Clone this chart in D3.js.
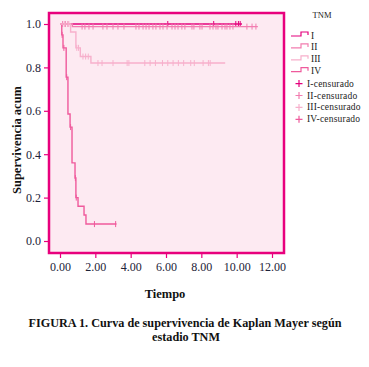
<!DOCTYPE html>
<html>
<head>
<meta charset="utf-8">
<script src="https://cdn.jsdelivr.net/npm/d3@7"></script>
<style>
  body { margin: 0; background: #fff; }
  svg text { font-family: "Liberation Serif", "DejaVu Serif", serif; }
</style>
</head>
<body>
<svg id="km"></svg>
<script>
/* Data: Kaplan-Meier steps [time, survival], censored times, end time */
const stages = ["I", "II", "III", "IV"];
const stepsI = [[0, 1]];
const stepsII = [[0, 1], [0.7, 0.988]];
const stepsIII = [[0, 1], [0.6, 0.963], [0.9, 0.89], [1.15, 0.85], [1.75, 0.82]];
const stepsIV = [[0, 1], [0.1, 0.95], [0.17, 0.89], [0.35, 0.755], [0.45, 0.585], [0.57, 0.525],
                 [0.68, 0.36], [0.85, 0.29], [0.9, 0.2], [1.02, 0.16], [1.36, 0.12], [1.47, 0.078]];
const endTimes = [10.3, 11.2, 9.35, 3.2];
const censI = [6.1, 8.7, 9.95, 10.1, 10.2];
const censII = [0.15, 0.3, 0.45, 1.25, 1.41, 1.64, 1.87, 2.43, 2.66, 3.0, 3.28, 3.62, 4.3, 4.47, 4.7, 4.87,
                5.04, 5.26, 5.43, 5.66, 5.83, 6.06, 6.34, 6.51, 6.68, 6.9, 7.07, 7.47, 7.58, 7.92, 8.04,
                8.49, 8.66, 8.83, 8.94, 9.17, 9.34, 9.45, 9.62, 9.79, 10.58, 10.87, 11.09];
const censIII = [0.25, 0.5, 0.95, 1.05, 1.3, 1.45, 1.6, 2.15, 2.38, 3.0, 3.8, 3.9, 4.8, 5.1, 5.4, 5.8,
                 6.1, 6.4, 6.7, 7.0, 7.4, 7.6, 8.1, 8.4, 8.5];
const censIV = [0.12, 0.22, 0.38, 0.6, 0.87, 0.92, 1.95, 3.15];
const xTicks = [0, 2, 4, 6, 8, 10, 12];
const yTicks = [0, 0.2, 0.4, 0.6, 0.8, 1.0];

const colors = ["#e4007c", "#f27db0", "#f7b0cc", "#ef5a9c"];
const allSteps = [stepsI, stepsII, stepsIII, stepsIV];
const allCens = [censI, censII, censIII, censIV];

/* Dimensions */
const width = 369, height = 367;
const frame = { left: 49, top: 13, right: 284, bottom: 253 };

const svg = d3.select("#km").attr("width", width).attr("height", height);

/* Scales */
const x = d3.scaleLinear().domain([0, 12]).range([60, 272]);
const y = d3.scaleLinear().domain([0, 1]).range([241, 24]);

/* Plot background */
svg.append("rect")
    .attr("x", frame.left).attr("y", frame.top)
    .attr("width", frame.right - frame.left).attr("height", frame.bottom - frame.top)
    .attr("fill", "#fdeaf2");

/* Survival value at time t */
function survAt(steps, t) {
    let v = steps[0][1];
    steps.forEach(s => { if (s[0] <= t) v = s[1]; });
    return v;
}

const line = d3.line().x(d => x(d[0])).y(d => y(d[1])).curve(d3.curveStepAfter);

/* Draw curves: I first, then IV, II, III on top */
const order = [0, 3, 1, 2];
order.forEach(i => {
    const steps = allSteps[i];
    const pts = steps.concat([[endTimes[i], steps[steps.length - 1][1]]]);
    const g = svg.append("g").attr("class", "stage-" + stages[i]);
    g.append("path")
        .attr("d", line(pts))
        .attr("fill", "none")
        .attr("stroke", colors[i])
        .attr("stroke-width", 1.4);
    g.selectAll(".cens")
        .data(allCens[i])
        .join("line")
          .attr("x1", d => x(d)).attr("x2", d => x(d))
          .attr("y1", d => y(survAt(steps, d)) - 3)
          .attr("y2", d => y(survAt(steps, d)) + 3)
          .attr("stroke", colors[i])
          .attr("stroke-width", 1);
});

/* Frame */
svg.append("rect")
    .attr("x", frame.left).attr("y", frame.top)
    .attr("width", frame.right - frame.left).attr("height", frame.bottom - frame.top)
    .attr("fill", "none")
    .attr("stroke", "#e8007d")
    .attr("stroke-width", 2.5);

/* Axes */
const yAxis = svg.append("g")
    .attr("transform", `translate(${frame.left - 1},0)`)
    .call(d3.axisLeft(y).tickValues(yTicks).tickFormat(d3.format(".1f")).tickSize(4).tickPadding(3));
const xAxis = svg.append("g")
    .attr("transform", `translate(0,${frame.bottom + 1})`)
    .call(d3.axisBottom(x).tickValues(xTicks).tickFormat(d3.format(".2f")).tickSize(4).tickPadding(4));
[yAxis, xAxis].forEach(a => {
    a.select(".domain").remove();
    a.selectAll(".tick line").attr("stroke", "#e8007d").attr("stroke-width", 1.2);
    a.selectAll(".tick text").attr("fill", "#1c2238").style("font-size", "12px")
        .style("font-family", "'Liberation Serif', serif");
});

/* Axis titles */
svg.append("text")
    .attr("transform", "translate(21,140) rotate(-90)")
    .attr("text-anchor", "middle")
    .attr("font-weight", "bold")
    .attr("font-size", 12.5)
    .attr("fill", "#111")
    .text("Supervivencia acum");

svg.append("text")
    .attr("x", 165).attr("y", 298)
    .attr("text-anchor", "middle")
    .attr("font-weight", "bold")
    .attr("font-size", 12.5)
    .attr("fill", "#111")
    .text("Tiempo");

/* Caption */
svg.append("text")
    .attr("x", 185).attr("y", 327)
    .attr("text-anchor", "middle")
    .attr("font-weight", "bold")
    .attr("font-size", 12.2)
    .attr("fill", "#111")
    .text("FIGURA 1. Curva de supervivencia de Kaplan Mayer según");
svg.append("text")
    .attr("x", 186).attr("y", 341)
    .attr("text-anchor", "middle")
    .attr("font-weight", "bold")
    .attr("font-size", 12.2)
    .attr("fill", "#111")
    .text("estadio TNM");

/* Legend */
const legend = svg.append("g").attr("class", "legend");
legend.append("text")
    .attr("x", 322).attr("y", 18)
    .attr("text-anchor", "middle")
    .attr("font-size", 8.5)
    .attr("fill", "#222")
    .text("TNM");

const rowY = i => 36 + i * 11.9;
stages.forEach((s, i) => {
    const yy = rowY(i);
    legend.append("path")
        .attr("d", `M291,${yy} H301 V${yy - 4} H308 V${yy - 1}`)
        .attr("fill", "none")
        .attr("stroke", colors[i])
        .attr("stroke-width", 1.2);
    legend.append("text")
        .attr("x", 311).attr("y", yy + 2.5)
        .attr("font-size", 9.5)
        .attr("fill", "#222")
        .text(s);
});
stages.forEach((s, i) => {
    const yy = rowY(i + 4);
    legend.append("path")
        .attr("d", `M295.5,${yy} H302.5 M299,${yy - 3.5} V${yy + 3.5}`)
        .attr("stroke", colors[i])
        .attr("stroke-width", 1.2);
    legend.append("text")
        .attr("x", 307).attr("y", yy + 3)
        .attr("font-size", 9.5)
        .attr("letter-spacing", 0.2)
        .attr("fill", "#222")
        .text(s + "-censurado");
});
</script>
</body>
</html>
